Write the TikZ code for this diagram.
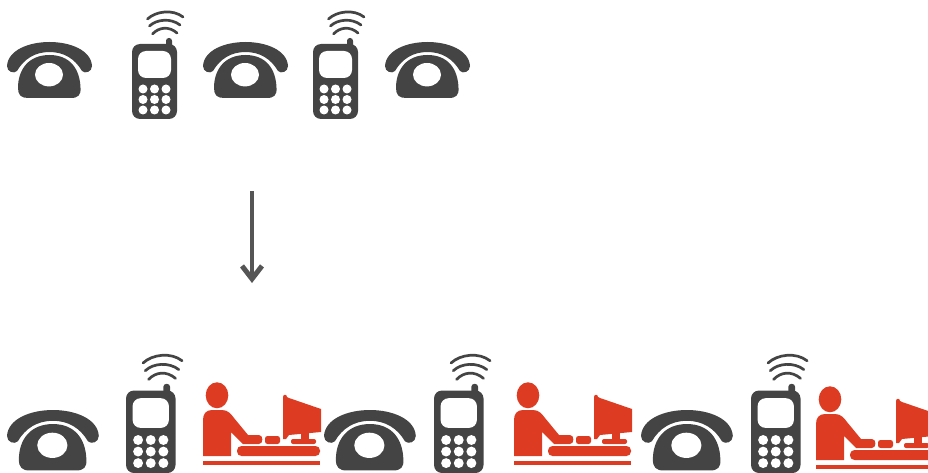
\documentclass[tikz,border=0pt]{standalone}
\usetikzlibrary{arrows.meta}
\definecolor{icondark}{HTML}{444444}
\definecolor{iconred}{HTML}{DD3C22}
\definecolor{arrowgrey}{HTML}{555555}
\tikzset{
  darkfill/.style={fill=icondark,draw=none},
  redfill/.style={fill=iconred,draw=none},
  wave/.style={draw=icondark,line width=2.7pt,line cap=round,fill=none},
  phone/.pic={
    \fill[darkfill] (0,24) .. controls (1,8) and (22,0) .. (42.5,0)
       .. controls (63,0) and (84,8) .. (85,24)
       .. controls (85,30) and (78,32) .. (75,29)
       .. controls (68,17) and (57,10) .. (42.5,10)
       .. controls (28,10) and (17,17) .. (10,29)
       .. controls (7,32) and (0,30) .. (0,24) -- cycle;
    \fill[darkfill] (42.5,13) .. controls (22,13) and (11,27) .. (11,46)
       .. controls (11,53) and (14,56) .. (21,56) -- (64,56)
       .. controls (71,56) and (74,53) .. (73.5,46)
       .. controls (73,27) and (63,13) .. (42.5,13) -- cycle;
    \fill[white] (42,32.7) ellipse [x radius=14,y radius=11.7];
  },
  mobile/.pic={
    \draw[wave] (15.5,10) .. controls (24,2) and (41,0) .. (51,8);
    \draw[wave] (17.5,17) .. controls (25,10) and (39,9) .. (48,16);
    \draw[wave] (20.5,25) .. controls (27,18) and (37,17) .. (45,24);
    \fill[darkfill,rounded corners=2.8pt] (34,40) -- (34,29) -- (40,29) -- (40,40) -- cycle;
    \fill[darkfill,rounded corners=8pt] (0,35) rectangle (45,110);
    \fill[white,rounded corners=8pt] (6,42) rectangle (39,69);
    \foreach \bx in {11,22.5,34} \foreach \by in {80,90.5,101}
      \fill[white] (\bx,\by) circle [radius=4.5];
  },
  agent/.pic={
    \fill[redfill] (14,13.3) ellipse [x radius=11.3,y radius=13];
    \fill[redfill] (0,74) -- (0,38) .. controls (0,32) and (3,28) .. (9,28) -- (19,28)
      .. controls (25,28) and (28,32) .. (31,36) -- (45,53) -- (56,53)
      .. controls (60.5,53) and (60.5,62) .. (56,62) -- (40,62) -- (28,50) -- (28,74) -- cycle;
    \fill[redfill,rounded corners=2.5pt] (62,54) rectangle (77,62);
    \fill[redfill] (80,15) .. controls (80,12) and (84,12) .. (84,15) -- (86,16) -- (118,27) -- (118,50)
      -- (86,53) -- (83,57) -- (80,57) -- cycle;
    \fill[redfill] (98,50) rectangle (106,58);
    \fill[redfill,rounded corners=2pt] (88,57) rectangle (113,62);
    \fill[redfill,rounded corners=4.5pt] (34,64) rectangle (117,74);
    \fill[redfill] (0,79) rectangle (117,83);
  }
}
\begin{document}
\begin{tikzpicture}[x=1pt,y=-1pt]
\useasboundingbox (0,0) rectangle (928,473);
\clip (0,0) rectangle (928,473);
% top row
\pic at (7,42) {phone};
\pic at (132,9) {mobile};
\pic at (203,42) {phone};
\pic at (313,9) {mobile};
\pic at (385,42) {phone};
% arrow
\coordinate (arrowstart) at (252,191);
\coordinate (arrowend) at (252,283);
\draw[arrowgrey,line width=3.5pt,-{Straight Barb[length=13pt,width=20pt,line width=5pt]}] (arrowstart) -- (arrowend);
% bottom row
\pic[scale=1.08] at (7,410) {phone};
\pic[scale=1.1] at (126,352) {mobile};
\pic at (203,382) {agent};
\pic[scale=1.08] at (324,410) {phone};
\pic[scale=1.1] at (434,352) {mobile};
\pic at (514,382) {agent};
\pic[scale=1.08] at (641,410) {phone};
\pic[scale=1.1] at (751,352) {mobile};
\pic at (816,386) {agent};
\end{tikzpicture}
\end{document}
